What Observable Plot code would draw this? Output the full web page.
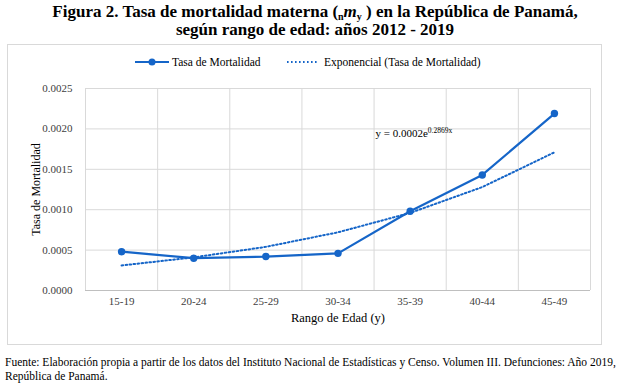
<!DOCTYPE html>
<html><head><meta charset="utf-8">
<script src="https://cdn.jsdelivr.net/npm/d3@7"></script>
<script src="https://cdn.jsdelivr.net/npm/@observablehq/plot@0.6"></script>
<style>
body{margin:0;background:#fff;font-family:"Liberation Serif","Times New Roman",serif;width:630px;height:387px;position:relative;overflow:hidden;color:#000}
#title{position:absolute;left:0;top:3px;width:630px;text-align:center;font-weight:bold;font-size:17px;line-height:18px}
#title sub{font-size:10px;line-height:0;vertical-align:-3px}
#box{position:absolute;left:7px;top:44px;width:595px;height:301px;border:1px solid #d9d9d9;box-sizing:border-box}
.lg{position:absolute;font-size:11.5px;line-height:14px;white-space:nowrap}
#chart{position:absolute;left:0;top:75px}
#caption{position:absolute;left:5px;top:355px;font-size:11.5px;line-height:14px;white-space:nowrap}
</style>
</head><body>
<div id="title">Figura 2. Tasa de mortalidad materna (<sub>n</sub><i>m</i><sub>y</sub> ) en la República de Panamá,<br>según rango de edad: años 2012 - 2019</div>
<div id="box"></div>
<svg class="lg" style="left:134px;top:56px" width="36" height="12"><line x1="1" x2="35" y1="6" y2="6" stroke="#1565c8" stroke-width="2.2"/><circle cx="18" cy="6" r="3.5" fill="#1565c8"/></svg>
<div class="lg" style="left:172px;top:55px">Tasa de Mortalidad</div>
<svg class="lg" style="left:286px;top:56px" width="36" height="12"><line x1="1" x2="33" y1="6" y2="6" stroke="#1565c8" stroke-width="2" stroke-dasharray="1.6,2.4"/></svg>
<div class="lg" style="left:324px;top:55px">Exponencial (Tasa de Mortalidad)</div>
<div id="chart"></div>
<div id="caption">Fuente: Elaboración propia a partir de los datos del Instituto Nacional de Estadísticas y Censo. Volumen III. Defunciones: Año 2019,<br>República de Panamá.</div>
<script>
const categories = ["15-19","20-24","25-29","30-34","35-39","40-44","45-49"];
const tasa = [0.00048,0.00040,0.00042,0.00046,0.00098,0.00143,0.00219];
const tendencia = [0.00031,0.00041,0.00054,0.00072,0.00096,0.00128,0.00171];
const yTicks = [0,0.0005,0.001,0.0015,0.002,0.0025];
const yLabel = "Tasa de Mortalidad";
const xLabel = "Rango de Edad (y)";
const eqBase = "y = 0.0002e";
const eqExp = "0.2869x";

const data = categories.map((c,i)=>({i:i+1, c, tasa:tasa[i], trend:tendencia[i]}));
const bounds = d3.range(0.5, categories.length + 1, 1);
const blue = "#1565c8";

const chart = Plot.plot({
  width:630, height:260,
  marginLeft:85, marginRight:40, marginTop:13, marginBottom:45,
  style:{fontFamily:"'Liberation Serif', serif", fontSize:"11px", color:"#404040", background:"transparent"},
  x:{domain:[0.5, categories.length + 0.5], ticks:data.map(d=>d.i), tickFormat:i=>categories[i-1], tickSize:0, tickPadding:7, label:null},
  y:{domain:[0, 0.0025], ticks:yTicks, tickFormat:d3.format(".4f"), tickSize:0, tickPadding:13, label:null},
  marks:[
    Plot.ruleY(yTicks,{stroke:"#d9d9d9"}),
    Plot.ruleX(bounds,{stroke:"#d9d9d9"}),
    Plot.ruleY([0],{stroke:"#bfbfbf"}),
    Plot.line(data,{x:"i", y:"trend", stroke:blue, strokeWidth:2, strokeDasharray:"1.6,2.4"}),
    Plot.line(data,{x:"i", y:"tasa", stroke:blue, strokeWidth:2.2}),
    Plot.dot(data,{x:"i", y:"tasa", r:3.7, fill:blue}),
    Plot.text([yLabel],{text:d=>d, frameAnchor:"left", textAnchor:"middle", rotate:-90, dx:-49, fontSize:12, fill:"#000"}),
    Plot.text([xLabel],{text:d=>d, frameAnchor:"bottom", dy:31, fontSize:12.5, fill:"#000"}),
    Plot.text([eqBase],{text:d=>d, x:()=>4.52, y:()=>0.00194, textAnchor:"start", fontSize:11, fill:"#000"})
  ]
});
document.getElementById("chart").appendChild(chart);
d3.select(chart).selectAll("text").filter(function(){return this.textContent === eqBase;})
  .append("tspan").attr("dy","-4").attr("font-size","7.5px").text(eqExp);
</script>
</body></html>
